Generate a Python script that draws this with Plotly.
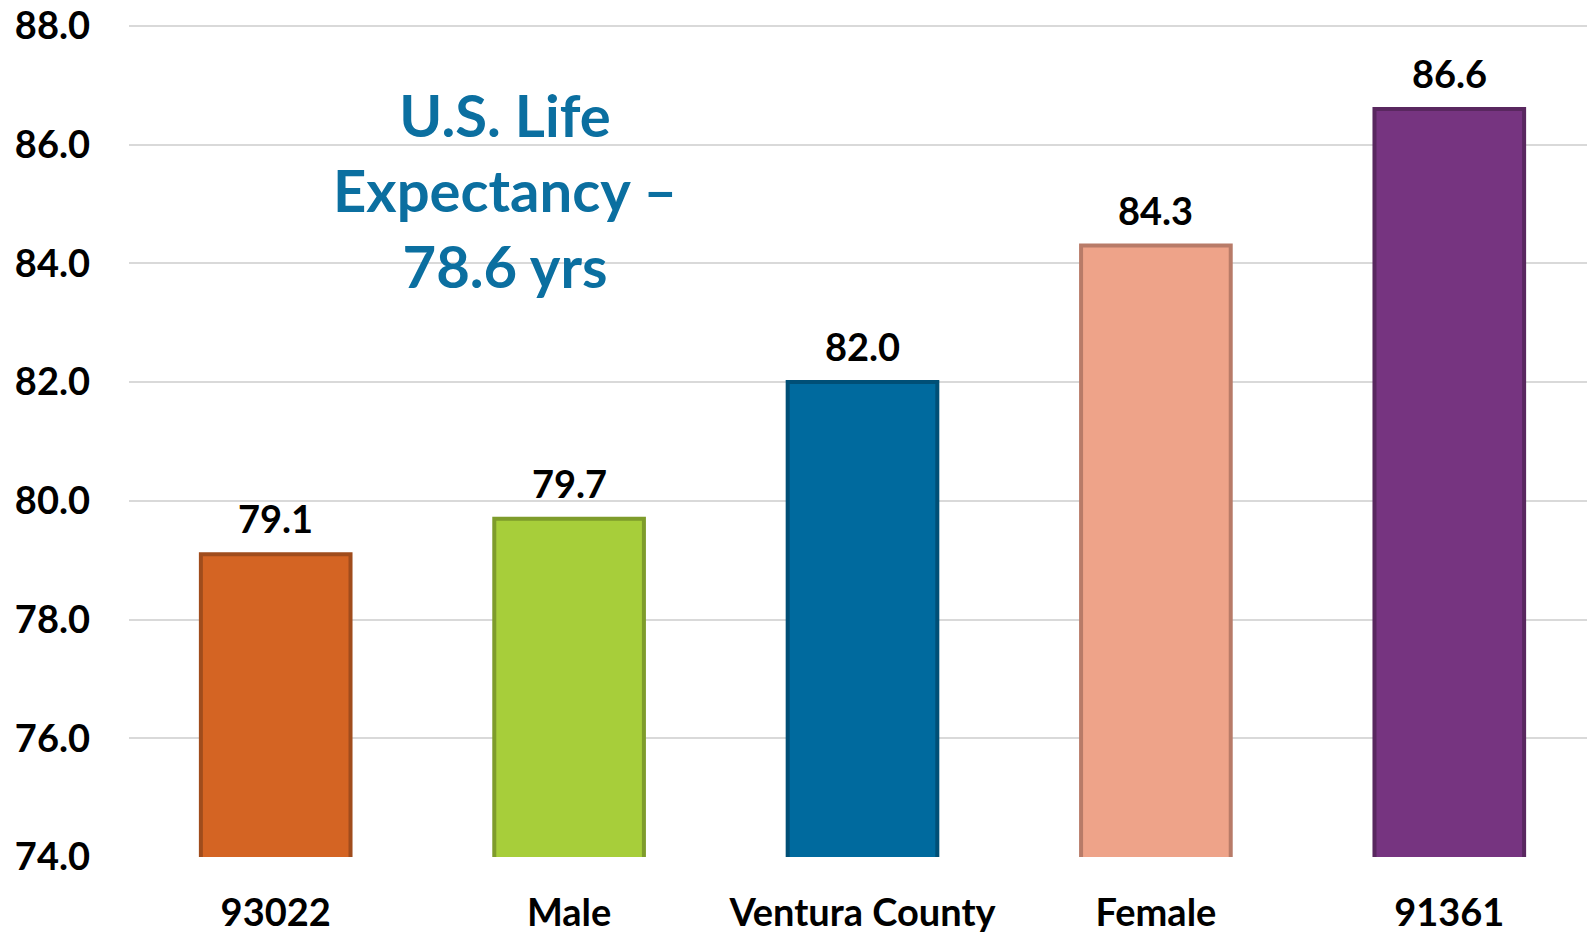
import plotly.graph_objects as go

categories = ["93022", "Male", "Ventura County", "Female", "91361"]
values = [79.1, 79.7, 82.0, 84.3, 86.6]
fill_colors = ["#D46423", "#A7CE3A", "#006A9E", "#EEA389", "#763480"]
line_colors = ["#A04C1C", "#7E9C2B", "#004F76", "#B87B68", "#59275F"]
tick_vals = [74, 76, 78, 80, 82, 84, 86, 88]

FONT = "Lato"

fig = go.Figure()
fig.add_trace(go.Bar(
    x=categories, y=values,
    marker=dict(color=fill_colors, line=dict(color=line_colors, width=4)),
    width=0.51,
    cliponaxis=False,
))

for i, v in enumerate(values):
    fig.add_annotation(
        x=i, y=v, xref="x", yref="y",
        text=f"<b>{v:.1f}</b>", showarrow=False,
        yanchor="bottom", yshift=11,
        font=dict(family=FONT, size=38, color="black"),
    )

fig.add_annotation(
    x=0.78, y=85.24, xref="x", yref="y",
    text="<b>U.S. Life<br>Expectancy –<br>78.6 yrs</b>",
    showarrow=False, align="center", yanchor="middle",
    font=dict(family=FONT, size=58, color="#0B6FA0"),
)

fig.update_layout(
    width=1595, height=933,
    margin=dict(l=121, r=7, t=15, b=84),
    plot_bgcolor="white", paper_bgcolor="white",
    showlegend=False,
)
fig.update_yaxes(
    range=[74, 88.05], autorange=False, tickvals=tick_vals, tickformat=".1f",
    showgrid=True, gridcolor="#D9D9D9", gridwidth=2,
    zeroline=False, showline=False, automargin=False,
    tickfont=dict(family=FONT, size=38, color="black", weight="bold"),
    ticklabelstandoff=38, ticklabeloverflow="allow",
)
fig.update_xaxes(
    type="category", categoryorder="array", categoryarray=categories,
    range=[-0.5, len(categories) - 0.5], autorange=False,
    showline=False, automargin=False,
    tickfont=dict(family=FONT, size=38, color="black", weight="bold"),
    ticklabelstandoff=30, ticklabeloverflow="allow",
)

fig.write_html("out.html")
